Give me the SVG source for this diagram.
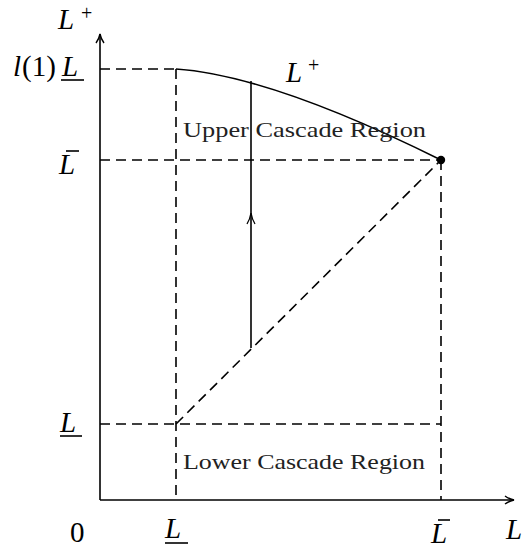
<svg xmlns="http://www.w3.org/2000/svg" width="524" height="550" viewBox="0 0 524 550">
<style>
.ax{stroke:#000;stroke-width:1.6;fill:none}
.dash{stroke:#000;stroke-width:1.6;fill:none;stroke-dasharray:10 6}
.solid{stroke:#000;stroke-width:1.6;fill:none}
.m{font-family:"Liberation Serif","DejaVu Serif",serif;font-style:italic;font-size:29px;fill:#000}
.r{font-family:"Liberation Serif","DejaVu Serif",serif;font-size:29px;fill:#000}
.sup{font-family:"Liberation Serif","DejaVu Serif",serif;font-size:20px;fill:#000}
.lbl{font-family:"Liberation Serif","DejaVu Serif",serif;font-size:22px;fill:#222}
.bar{stroke:#000;stroke-width:1.6}
</style>
<defs>
<marker id="ah" markerWidth="12" markerHeight="10" refX="10" refY="5" orient="auto" markerUnits="userSpaceOnUse">
<path d="M1,1 Q5,4 10,5 Q5,6 1,9" fill="none" stroke="#000" stroke-width="1.4"/>
</marker>
</defs>
<g id="axes">
<line class="ax" x1="100" y1="500" x2="100" y2="34" marker-end="url(#ah)"/>
<line class="ax" x1="100" y1="500" x2="514" y2="500" marker-end="url(#ah)"/>
</g>
<g id="connectors">
<line class="dash" x1="100" y1="69" x2="176" y2="69"/>
<line class="dash" x1="100" y1="160" x2="441" y2="160"/>
<line class="dash" x1="100" y1="424" x2="441" y2="424"/>
<line class="dash" x1="176" y1="69" x2="176" y2="500"/>
<line class="dash" x1="441" y1="160" x2="441" y2="500"/>
<line class="dash" x1="176" y1="424" x2="441" y2="160"/>
<path class="solid" d="M176,69 C220,72 300,90 441,160"/>
<line class="solid" x1="251" y1="348" x2="251" y2="81"/>
<path d="M247,224 Q250,219 251,213 Q252,219 255,224" fill="none" stroke="#000" stroke-width="1.3"/>
<circle cx="441" cy="160" r="4.2" fill="#000"/>
</g>
<g id="labels">
<text class="m" x="58" y="29">L</text><text class="sup" x="81" y="20">+</text>
<text class="m" x="13" y="76">l</text><text class="r" x="22" y="76">(1)</text><text class="m" x="62" y="76">L</text>
<line class="bar" x1="61" y1="80" x2="84" y2="80"/>
<text class="m" x="59" y="174">L</text>
<line class="bar" x1="66" y1="151" x2="79" y2="151"/>
<text class="m" x="60" y="432">L</text>
<line class="bar" x1="60" y1="436" x2="82" y2="436"/>
<text class="r" x="70" y="542">0</text>
<text class="m" x="165" y="538">L</text>
<line class="bar" x1="165" y1="543" x2="188" y2="543"/>
<text class="m" x="431" y="543">L</text>
<line class="bar" x1="438" y1="520" x2="450" y2="520"/>
<text class="m" x="506" y="539">L</text>
<text class="m" x="286" y="82">L</text><text class="sup" x="308" y="72">+</text>
<text class="lbl" x="183" y="137" textLength="243" lengthAdjust="spacingAndGlyphs">Upper Cascade Region</text>
<text class="lbl" x="183" y="469" textLength="242" lengthAdjust="spacingAndGlyphs">Lower Cascade Region</text>
</g>
</svg>
